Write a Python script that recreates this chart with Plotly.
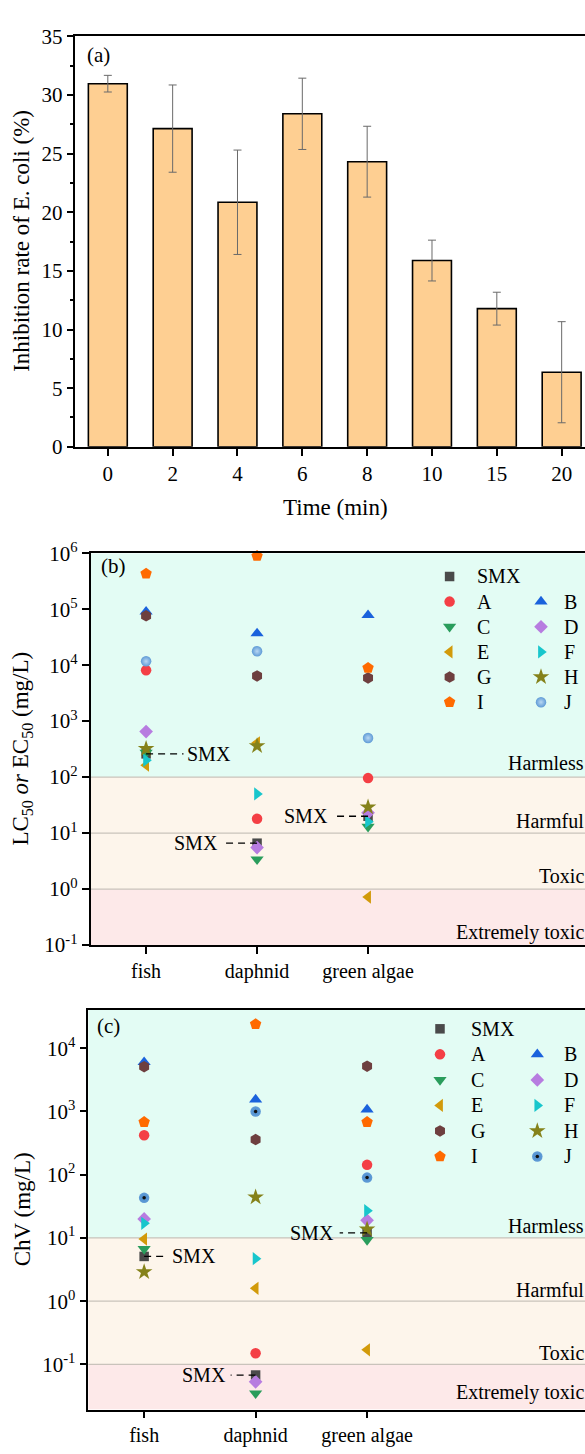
import plotly.graph_objects as go
import numpy as np

W, H = 585, 1454
FONT = "Liberation Serif"

# ---------------- data ----------------
times = ["0", "2", "4", "6", "8", "10", "15", "20"]
inhibition = [30.96, 27.13, 20.85, 28.39, 24.31, 15.88, 11.78, 6.36]
inhibition_err = [0.71, 3.72, 4.45, 3.04, 3.02, 1.74, 1.40, 4.31]

organisms = ["fish", "daphnid", "green algae"]
compounds = ["SMX", "A", "B", "C", "D", "E", "F", "G", "H", "I", "J"]

# (b) LC50 / EC50 (mg/L): [fish, daphnid, green algae]
lc50_SMX = [260, 6.6, 20]
lc50_A = [8100, 18, 96]
lc50_B = [90000, 36900, 78000]
lc50_C = [275, 3.4, 13]
lc50_D = [650, 5.5, 23]
lc50_E = [163, 410, 0.72]
lc50_F = [200, 50, 16]
lc50_G = [76000, 6400, 5900]
lc50_H = [320, 360, 29]
lc50_I = [430000, 890000, 8900]
lc50_J = [11700, 17700, 500]

# (c) ChV (mg/L): [fish, daphnid, green algae]
chv_SMX = [5.1, 0.068, 12]
chv_A = [420, 0.15, 143]
chv_B = [6000, 1540, 1070]
chv_C = [6.7, 0.035, 9.3]
chv_D = [20, 0.053, 19]
chv_E = [9.6, 1.6, 0.17]
chv_F = [17, 4.7, 27]
chv_G = [5100, 360, 5200]
chv_H = [2.9, 44, 13.7]
chv_I = [680, 24000, 680]
chv_J = [43, 1000, 90]

lc50 = {"SMX": lc50_SMX, "A": lc50_A, "B": lc50_B, "C": lc50_C, "D": lc50_D, "E": lc50_E,
        "F": lc50_F, "G": lc50_G, "H": lc50_H, "I": lc50_I, "J": lc50_J}
chv = {"SMX": chv_SMX, "A": chv_A, "B": chv_B, "C": chv_C, "D": chv_D, "E": chv_E,
       "F": chv_F, "G": chv_G, "H": chv_H, "I": chv_I, "J": chv_J}

# ---------------- styles ----------------
style = {
    "SMX": ("square", 9.5, "#4a4a4a"),
    "A": ("circle", 10.5, "#f43f45"),
    "B": ("triangle-up", 11.5, "#1a62dc"),
    "C": ("triangle-down", 11.5, "#2a9d5c"),
    "D": ("diamond", 10.5, "#b77ce0"),
    "E": ("triangle-left", 11.5, "#d29a0a"),
    "F": ("triangle-right", 11.5, "#18c6cc"),
    "G": ("hexagon", 11.5, "#6e3f3f"),
    "H": ("star", 12.5, "#85821a"),
    "I": ("pentagon", 12, "#ff6a00"),
    "J": ("circle", 10.5, "#5f9bd6"),
}

MINT = "#e3fcf4"
PEACH = "#fdf5eb"
PINK = "#fde9e9"
BLINE = "#c9c3bb"

# geometry (pixels)
A_L, A_T, A_B = 75.4, 22.7, 440.7
B_L, B_T, B_B = 90.6, 549.0, 948.0
C_L, C_T, C_B = 88.4, 1014.0, 1421.0
A_XR = [-0.5, 7.36]
B_XR = [-0.5, 3.955]
C_XR = [-0.5, 3.955]
B_YR = [-1, 6]
C_YR = [-1.714, 4.606]


def pxx(x):
    return x / W


def pxy(y):
    return 1 - y / H


def xdata(px, left, xr):
    return xr[0] + (px - left) / (W - left) * (xr[1] - xr[0])


def ydata_log(py, top, bot, yr):
    return 10 ** (yr[1] - (py - top) / (bot - top) * (yr[1] - yr[0]))


def marker_for(name, panel):
    sym, size, col = style[name]
    mk = dict(symbol=sym, size=size, color=col, line=dict(width=0))
    if name == "J" and panel == "b":
        mk["gradient"] = dict(type="radial", color="#b9d7f3")
    if name == "J" and panel == "c":
        mk["gradient"] = dict(type="radial", color="#4f8fcf")
    return mk


fig = go.Figure()
ann = []
shapes = []

# ---------------- panel (a) ----------------
idx_t = list(range(len(times)))
fig.add_trace(go.Bar(
    x=idx_t, y=inhibition, width=0.6,
    marker=dict(color="#fecf92", line=dict(color="black", width=1.6)),
    error_y=dict(type="data", array=inhibition_err, color="#6a6a6a", thickness=1, width=4),
    xaxis="x", yaxis="y", showlegend=False,
))

# ---------------- panels (b), (c) ----------------
idx_o = list(range(len(organisms)))


def add_panel(data, xa, ya, panel):
    for name in compounds:
        fig.add_trace(go.Scatter(x=idx_o, y=data[name], mode="markers", marker=marker_for(name, panel),
                                 xaxis=xa, yaxis=ya, showlegend=False, cliponaxis=False))
        if name == "J" and panel == "c":
            fig.add_trace(go.Scatter(x=idx_o, y=data[name], mode="markers",
                                     marker=dict(symbol="circle", size=3.5, color="#111"),
                                     xaxis=xa, yaxis=ya, showlegend=False, cliponaxis=False))


add_panel(lc50, "x2", "y2", "b")
add_panel(chv, "x3", "y3", "c")

# legends (manual, two columns)
legend_rows = [["SMX"], ["A", "B"], ["C", "D"], ["E", "F"], ["G", "H"], ["I", "J"]]


def add_legend(panel, xa, ya, left, top, bot, xr, yr, mcols, tcols, y0, dy):
    for r, row in enumerate(legend_rows):
        yy = y0 + dy * r
        for c, name in enumerate(row):
            xv = xdata(mcols[c], left, xr)
            yv = ydata_log(yy, top, bot, yr)
            fig.add_trace(go.Scatter(x=[xv], y=[yv], mode="markers", marker=marker_for(name, panel),
                                     xaxis=xa, yaxis=ya, showlegend=False))
            if name == "J" and panel == "c":
                fig.add_trace(go.Scatter(x=[xv], y=[yv], mode="markers",
                                         marker=dict(symbol="circle", size=3.5, color="#111"),
                                         xaxis=xa, yaxis=ya, showlegend=False))
            ann.append(dict(text=name, x=pxx(tcols[c]), y=pxy(yy), xref="paper", yref="paper",
                            xanchor="left", yanchor="middle", showarrow=False,
                            font=dict(size=20, color="black", family=FONT)))


add_legend("b", "x2", "y2", B_L, B_T, B_B, B_XR, B_YR, [449.6, 541.0], [474.6, 561.6], 572.7, 25.6)
add_legend("c", "x3", "y3", C_L, C_T, C_B, C_XR, C_YR, [440.0, 537.3], [469.4, 561.6], 1033.3, 26.0)


# background bands
def add_bands(xa, ya, ymin, ymax, b1, b2, b3):
    xd = xa + " domain"
    for (lo, hi, col) in [(b1, ymax, MINT), (b3, b1, PEACH), (ymin, b3, PINK)]:
        shapes.append(dict(type="rect", xref=xd, yref=ya, x0=0, x1=1, y0=lo, y1=hi,
                           fillcolor=col, line=dict(width=0), layer="below"))
    for v in (b1, b2, b3):
        shapes.append(dict(type="line", xref=xd, yref=ya, x0=0, x1=1, y0=v, y1=v,
                           line=dict(color=BLINE, width=1.2), layer="below"))


add_bands("x2", "y2", 10 ** B_YR[0], 10 ** B_YR[1], 100, 10, 1)
add_bands("x3", "y3", 10 ** C_YR[0], 10 ** C_YR[1], 10, 1, 0.1)

# band labels
for txt, yy in [("Harmless", 763), ("Harmful", 822), ("Toxic", 878), ("Extremely toxic", 935),
                ("Harmless", 1234), ("Harmful", 1299), ("Toxic", 1363), ("Extremely toxic", 1404)]:
    ann.append(dict(text=txt, x=pxx(586), y=pxy(yy), xref="paper", yref="paper",
                    xanchor="right", yanchor="middle", showarrow=False,
                    font=dict(size=20, color="black", family=FONT)))


# SMX callouts: (organism index, line end offset, text offset, anchor)
def smx_callouts(xa, ya, values, spec):
    for i, dl, dt, anchor in spec:
        v = values[i]
        shapes.append(dict(type="line", xref=xa, yref=ya, x0=i, x1=i + dl, y0=v, y1=v,
                           line=dict(color="black", width=1.3, dash="7px,5px"), layer="above"))
        ann.append(dict(text="SMX", x=i + dt, y=np.log10(v), xref=xa, yref=ya,
                        xanchor=anchor, yanchor="middle", showarrow=False,
                        font=dict(size=20, color="black", family=FONT)))


smx_callouts("x2", "y2", lc50_SMX, [(0, 0.337, 0.355, "left"), (1, -0.289, -0.33, "right"),
                                    (2, -0.32, -0.345, "right")])
smx_callouts("x3", "y3", chv_SMX, [(0, 0.215, 0.233, "left"), (1, -0.224, -0.25, "right"),
                                   (2, -0.246, -0.282, "right")])

# axis titles and panel labels
extra = [
    dict(text="Inhibition rate of E. coli (%)", x=pxx(22), y=pxy(231), textangle=-90,
         font=dict(size=23, family=FONT, color="black")),
    dict(text="Time (min)", x=pxx(335), y=pxy(502), font=dict(size=23, family=FONT, color="black")),
    dict(text="LC<sub>50</sub> <i>or</i> EC<sub>50</sub> (mg/L)", x=pxx(22), y=pxy(748), textangle=-90,
         font=dict(size=23, family=FONT, color="black")),
    dict(text="ChV (mg/L)", x=pxx(22), y=pxy(1217), textangle=-90,
         font=dict(size=23, family=FONT, color="black")),
    dict(text="(a)", x=pxx(98.7), y=pxy(42), font=dict(size=21, family=FONT, color="black")),
    dict(text="(b)", x=pxx(113), y=pxy(562), font=dict(size=21, family=FONT, color="black")),
    dict(text="(c)", x=pxx(108), y=pxy(1030), font=dict(size=21, family=FONT, color="black")),
]
for a in extra:
    a.update(xref="paper", yref="paper", xanchor="center", yanchor="middle", showarrow=False)
ann += extra

axis_common = dict(showline=True, linecolor="black", linewidth=1.6, ticks="outside",
                   ticklen=7, tickwidth=1.5, tickcolor="black", showgrid=False, zeroline=False,
                   tickfont=dict(size=21, family=FONT, color="black"))


def log_ticks(lo, hi):
    vals = [10.0 ** k for k in range(lo, hi + 1)]
    txt = ["10<sup>%d</sup>" % k if k >= 0 else "10<sup>-%d</sup>" % (-k) for k in range(lo, hi + 1)]
    return vals, txt


bvals, btxt = log_ticks(-1, 6)
cvals, ctxt = log_ticks(-1, 4)

fig.update_layout(
    width=W, height=H, margin=dict(l=0, r=0, t=0, b=0),
    paper_bgcolor="white", plot_bgcolor="rgba(0,0,0,0)",
    font=dict(family=FONT, color="black"),
    showlegend=False, bargap=0.4,
    xaxis=dict(axis_common, domain=[pxx(A_L), 1], range=A_XR, tickmode="array",
               tickvals=idx_t, ticktext=times, anchor="y", mirror=True),
    yaxis=dict(axis_common, domain=[pxy(A_B), pxy(A_T)], range=[0, 35], tick0=0, dtick=5,
               anchor="x",
               minor=dict(ticks="outside", ticklen=4, tickwidth=1.5, tickcolor="black", dtick=2.5)),
    xaxis2=dict(axis_common, domain=[pxx(B_L), 1], range=B_XR, tickmode="array",
                tickvals=idx_o, ticktext=organisms, anchor="y2", mirror=True,
                tickfont=dict(size=20, family=FONT, color="black")),
    yaxis2=dict(axis_common, domain=[pxy(B_B), pxy(B_T)], type="log", range=B_YR,
                tickmode="array", tickvals=bvals, ticktext=btxt, anchor="x2"),
    xaxis3=dict(axis_common, domain=[pxx(C_L), 1], range=C_XR, tickmode="array",
                tickvals=idx_o, ticktext=organisms, anchor="y3", mirror=True,
                tickfont=dict(size=20, family=FONT, color="black")),
    yaxis3=dict(axis_common, domain=[pxy(C_B), pxy(C_T)], type="log", range=C_YR,
                tickmode="array", tickvals=cvals, ticktext=ctxt, anchor="x3"),
    annotations=ann, shapes=shapes,
)

fig.write_html("out.html")
